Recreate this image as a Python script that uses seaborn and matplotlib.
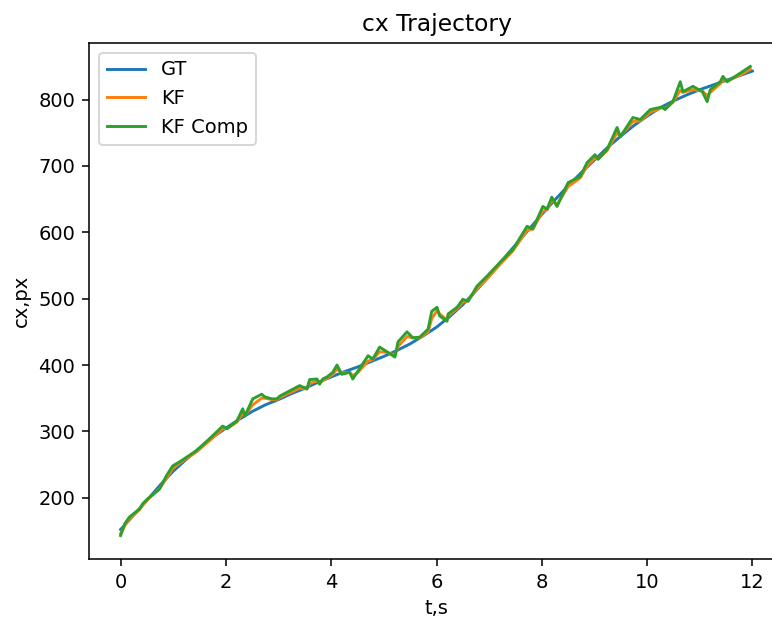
import matplotlib
matplotlib.use("Agg")
import matplotlib.pyplot as plt
import seaborn as sns
import pandas as pd

# Ground truth trajectory (t in s, cx in px)
gt_t = [0.0, 0.25, 0.5, 0.75, 1.0, 1.25, 1.5, 1.75, 2.0, 2.25, 2.5, 2.75, 3.0,
        3.25, 3.5, 3.75, 4.0, 4.25, 4.5, 4.75, 5.0, 5.25, 5.5, 5.75, 6.0,
        6.25, 6.5, 6.75, 7.0, 7.25, 7.5, 7.75, 8.0, 8.25, 8.5, 8.75, 9.0,
        9.25, 9.5, 9.75, 10.0, 10.25, 10.5, 10.75, 11.0, 11.25, 11.5, 11.75, 12.0]
gt_cx = [152, 174, 196, 219, 240, 258, 275, 291, 305, 318, 330, 340, 348,
         357, 365, 374, 382, 390, 397, 405, 413, 422, 432, 444, 457,
         473, 491, 512, 534, 558, 581, 604, 627, 649, 670, 690, 709,
         728, 745, 761, 775, 788, 798, 807, 815, 822, 829, 836, 843]

# Measurement time stamps for the filters
kf_t = [0.00, 0.08, 0.17, 0.36, 0.42, 0.51, 0.74, 0.87, 0.99, 1.12, 1.44, 1.69,
        1.94, 2.02, 2.21, 2.32, 2.36, 2.51, 2.68, 2.74, 2.87, 2.97, 3.02, 3.21,
        3.40, 3.54, 3.59, 3.73, 3.78, 3.84, 3.92, 4.03, 4.11, 4.20, 4.35, 4.41,
        4.51, 4.70, 4.79, 4.92, 5.06, 5.21, 5.27, 5.44, 5.55, 5.68, 5.84, 5.91,
        6.01, 6.06, 6.20, 6.22, 6.39, 6.50, 6.60, 6.77, 6.96, 7.21, 7.45, 7.72,
        7.83, 8.02, 8.10, 8.19, 8.29, 8.50, 8.73, 8.86, 9.01, 9.07, 9.24, 9.43,
        9.49, 9.73, 9.87, 10.06, 10.29, 10.34, 10.49, 10.63, 10.68, 10.87, 11.05,
        11.14, 11.20, 11.39, 11.44, 11.52, 11.77, 11.96]

kf_cx = [146, 158, 168, 182, 189, 197, 214, 229, 244, 252, 269, 286,
         304, 304, 314, 327, 324, 340, 350, 350, 348, 348, 351, 358,
         365, 364, 372, 376, 373, 377, 380, 386, 394, 388, 389, 384,
         389, 406, 408, 420, 419, 415, 428, 443, 441, 441, 450, 470,
         482, 477, 468, 474, 485, 495, 497, 515, 530, 552, 572, 603,
         605, 632, 634, 648, 642, 669, 682, 700, 712, 711, 723, 750,
         745, 767, 768, 781, 788, 786, 796, 814, 811, 815, 813,
         806, 811, 824, 830, 828, 837, 846]

kfc_cx = [143, 161, 171, 183, 191, 198, 213, 233, 248, 254, 271, 289,
          308, 304, 316, 334, 323, 349, 356, 352, 349, 349, 353, 361,
          369, 364, 378, 379, 371, 379, 382, 389, 400, 386, 389, 379,
          391, 414, 409, 427, 420, 412, 435, 450, 441, 442, 454, 481,
          487, 474, 466, 477, 487, 499, 496, 519, 534, 555, 574, 609,
          605, 639, 635, 653, 639, 675, 684, 705, 717, 710, 725, 758,
          744, 773, 770, 785, 789, 785, 797, 827, 812, 820, 812,
          797, 815, 827, 835, 827, 840, 850]

series_names = ["GT", "KF", "KF Comp"]
colors = ["#1f77b4", "#ff7f0e", "#2ca02c"]

df = pd.concat([
    pd.DataFrame({"t": gt_t, "cx": gt_cx, "series": series_names[0]}),
    pd.DataFrame({"t": kf_t, "cx": kf_cx, "series": series_names[1]}),
    pd.DataFrame({"t": kf_t, "cx": kfc_cx, "series": series_names[2]}),
], ignore_index=True)

DPI = 140
fig = plt.figure(figsize=(772 / DPI, 617 / DPI), dpi=DPI)
ax = fig.add_axes([89 / 772, (617 - 559) / 617, (784 - 89) / 772, (559 - 43) / 617])

sns.lineplot(data=df, x="t", y="cx", hue="series", hue_order=series_names,
             palette=colors, estimator=None, sort=False, linewidth=1.5, ax=ax)

handles, labels = ax.get_legend_handles_labels()
ax.legend(handles, labels, loc="upper left")

ax.set_title("cx Trajectory")
ax.set_xlabel("t,s")
ax.set_ylabel("cx,px")
ax.set_xticks([0, 2, 4, 6, 8, 10, 12])

fig.savefig("out.png", dpi=DPI)
